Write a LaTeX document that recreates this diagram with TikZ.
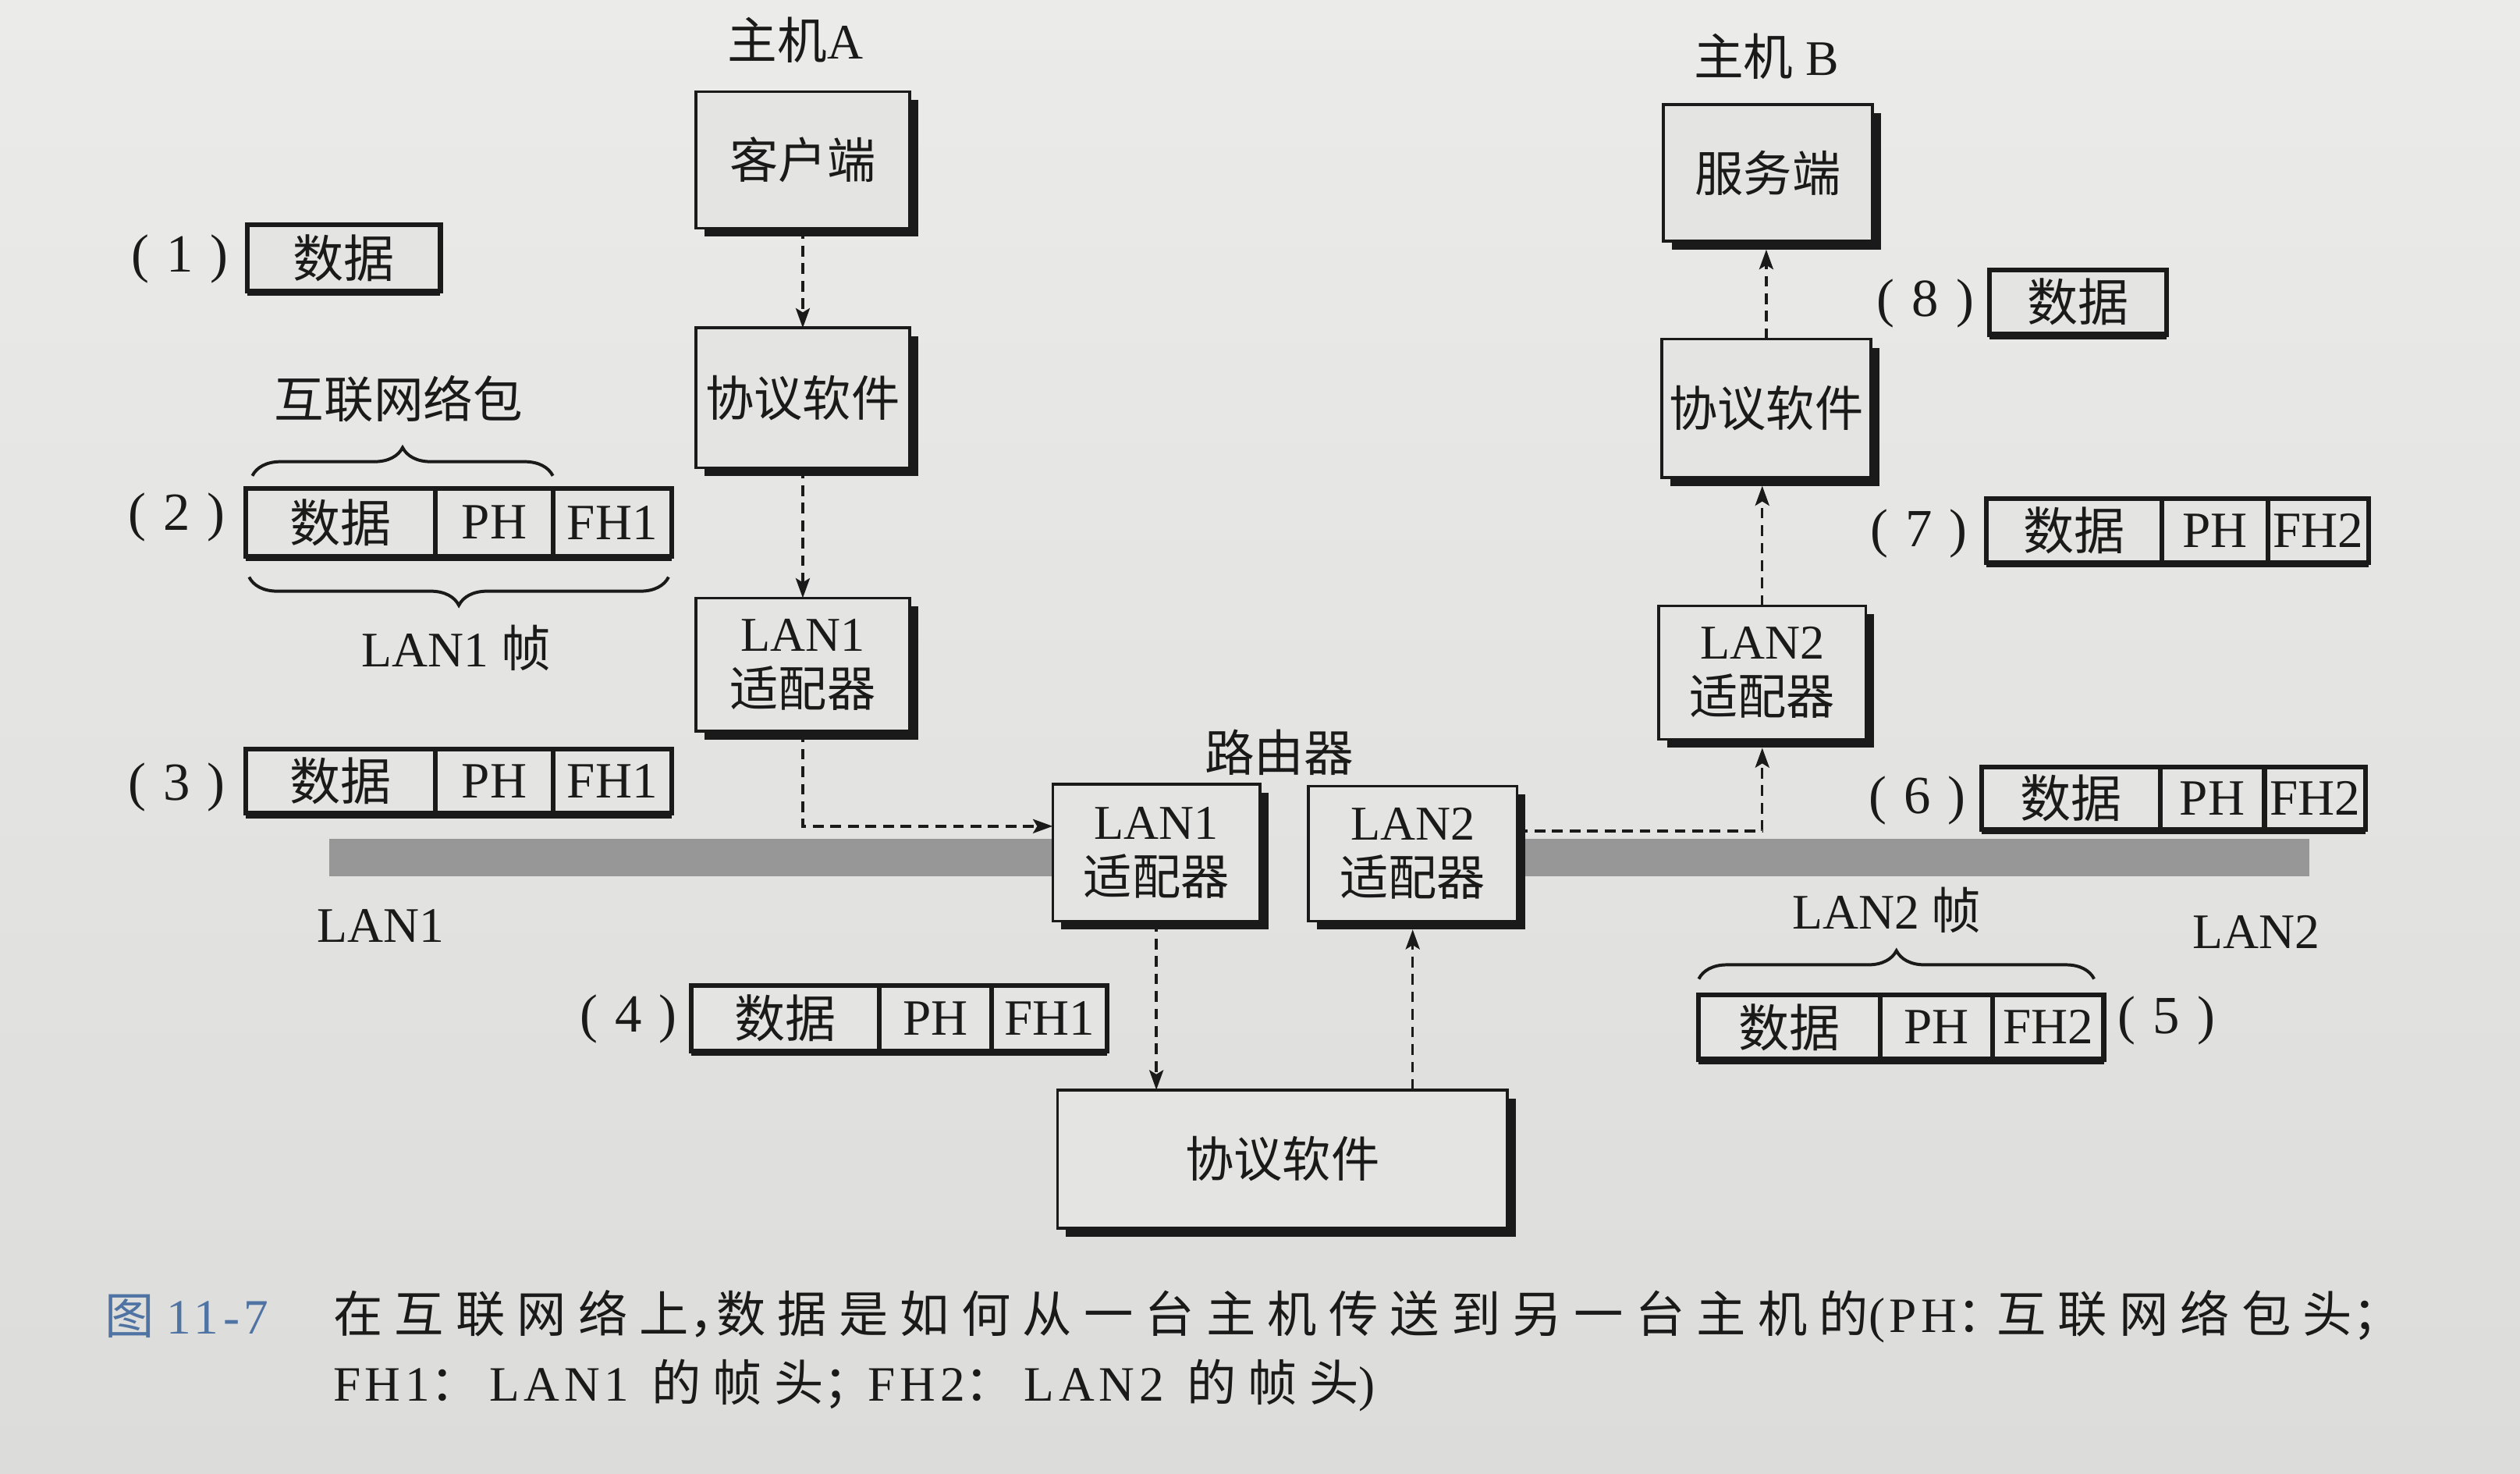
\documentclass[tikz,border=0pt]{standalone}
\usepackage{fontspec}
\setmainfont{Liberation Serif}
\newfontfamily\zh{Noto Sans CJK SC}
\newfontfamily\zhcap{Noto Sans CJK SC}[LetterSpace=24]
\newfontfamily\lacap{Liberation Serif}[LetterSpace=9]
\usetikzlibrary{arrows.meta,shadows,decorations.pathreplacing,calc}
\definecolor{paper}{HTML}{E4E4E2}
\definecolor{papertop}{HTML}{EBEBEA}
\definecolor{paperbot}{HTML}{DCDCDA}
\definecolor{ink}{HTML}{1A1A1A}
\definecolor{capblue}{HTML}{4F74A3}
\definecolor{lanbar}{HTML}{979797}

\tikzset{
  txt/.style={font=\fontsize{17.6}{19.5}\selectfont, text=ink, inner sep=0pt, align=center},
  steplbl/.style={font=\fontsize{19}{21}\selectfont, text=ink, inner sep=0pt},
  sbox/.style={draw=ink, line width=1pt, fill=paper, inner sep=0pt, outer sep=0pt, align=center, text=ink,
     font=\fontsize{17.2}{19.5}\selectfont,
     drop shadow={shadow xshift=3pt, shadow yshift=-3pt, fill=ink, opacity=1}},
  cell/.style={draw=ink, line width=1.7pt, fill=paper, inner sep=0pt, outer sep=0pt, text=ink, font=\fontsize{18}{19}\selectfont},
  flow/.style={draw=ink, line width=0.95pt, dash pattern=on 3.8pt off 2.4pt, -{Stealth[length=7pt,width=5pt,inset=1.5pt]}},
  brc/.style={draw=ink, line width=1.1pt, decorate, decoration={brace, amplitude=10pt}},
}

\newcommand\pktthree[8]{%
  \node[cell, minimum width={(#3-#2)*0.02cm}, minimum height={(#7-#6)*0.02cm}] (#1d) at ({(#2+#3)/2},{(#6+#7)/2}) {\zh 数据};
  \node[cell, minimum width={(#4-#3)*0.02cm}, minimum height={(#7-#6)*0.02cm}] (#1p) at ({(#3+#4)/2},{(#6+#7)/2}) {PH};
  \node[cell, minimum width={(#5-#4)*0.02cm}, minimum height={(#7-#6)*0.02cm}] (#1f) at ({(#4+#5)/2},{(#6+#7)/2}) {#8};
  \draw[ink, line width=1.6pt] ([yshift=-0.9pt]#1d.south west) -- ([yshift=-0.9pt]#1f.south east);
}
\newcommand\pktone[5]{%
  \node[cell, minimum width={(#3-#2)*0.02cm}, minimum height={(#5-#4)*0.02cm}] (#1d) at ({(#2+#3)/2},{(#4+#5)/2}) {\zh 数据};
  \draw[ink, line width=1.6pt] ([yshift=-0.9pt]#1d.south west) -- ([yshift=-0.9pt]#1d.south east);
}
\newcommand\stp[1]{(\hspace{0.32em}#1\hspace{0.32em})}

\begin{document}
\begin{tikzpicture}[x=0.02cm, y=-0.02cm]
\shade[top color=papertop, bottom color=paperbot] (0,0) rectangle (1568,917);
\useasboundingbox (0,0) rectangle (1568,917);

% LAN bars
\fill[lanbar] (205,522) rectangle (655,545);
\fill[lanbar] (944,522) rectangle (1437,545);

% Host A
\node[txt] (hA) at (495,25) {\zh 主机\rmfamily A};
\node[sbox, minimum width=2.66cm, minimum height=1.70cm] (cA) at (499.5,99.5) {\zh 客户端};
\node[sbox, minimum width=2.66cm, minimum height=1.74cm] (pA) at (499.5,247.5) {\zh 协议软件};
\node[sbox, minimum width=2.66cm, minimum height=1.66cm] (lA) at (499.5,413.5) {LAN1\\\zh 适配器};

% Router
\node[txt] (rt) at (796,468) {\zh 路由器};
\node[sbox, minimum width=2.58cm, minimum height=1.70cm] (rL1) at (719.5,530.5) {LAN1\\\zh 适配器};
\node[sbox, minimum width=2.60cm, minimum height=1.68cm] (rL2) at (879,531) {LAN2\\\zh 适配器};
\node[sbox, minimum width=5.60cm, minimum height=1.72cm] (rP) at (798,721) {\zh 协议软件};

% Host B
\node[txt] (hB) at (1099,35) {{\zh 主机} B};
\node[sbox, minimum width=2.60cm, minimum height=1.70cm] (sB) at (1100,107.5) {\zh 服务端};
\node[sbox, minimum width=2.60cm, minimum height=1.72cm] (pB) at (1099,254) {\zh 协议软件};
\node[sbox, minimum width=2.58cm, minimum height=1.66cm] (lB) at (1096.5,418.5) {LAN2\\\zh 适配器};

% flows
\draw[flow] (cA.south) -- (pA.north);
\draw[flow] (pA.south) -- (lA.north);
\coordinate (kA) at (499.5,514);
\draw[flow] (lA.south) -- (kA) -- (kA -| rL1.west);
\draw[flow] (rL1.south) -- (rL1.south |- rP.north);
\draw[flow, shorten >=3pt] (rL2.south |- rP.north) -- (rL2.south);
\coordinate (kB) at (1096.5,517);
\draw[flow, shorten >=3pt] (kB -| rL2.east) -- (kB) -- (lB.south);
\draw[flow, shorten >=3pt] (lB.north) -- (lB.north |- pB.south);
\draw[flow, shorten >=3pt] (pB.north) -- (pB.north |- sB.south);

% packets
\pktone{p1}{154}{274}{140}{181}
\pktthree{p2}{153}{271}{344}{418}{304}{346}{FH1}
\pktthree{p3}{153}{271}{344}{418}{466}{506}{FH1}
\pktthree{p4}{430}{547}{617}{689}{613}{654}{FH1}
\pktthree{p5}{1057}{1170}{1240}{1309}{619}{659}{FH2}
\pktthree{p6}{1233}{1344}{1409}{1472}{477}{516}{FH2}
\pktthree{p7}{1236}{1345}{1411}{1474}{310}{350}{FH2}
\pktone{p8}{1238}{1348}{168}{208}

% step labels
\node[steplbl] (n1) at (112,161) {\stp{1}};
\node[steplbl] (n2) at (110,322) {\stp{2}};
\node[steplbl] (n3) at (110,490) {\stp{3}};
\node[steplbl] (n4) at (391,634) {\stp{4}};
\node[steplbl] (n5) at (1348,635) {\stp{5}};
\node[steplbl] (n6) at (1193,498) {\stp{6}};
\node[steplbl] (n7) at (1194,332) {\stp{7}};
\node[steplbl] (n8) at (1198,189) {\stp{8}};

% braces and labels
\draw[brc] (157,296) -- (344,296);
\draw[brc] (416,359) -- (155,359);
\draw[brc] (1057,609) -- (1303,609);
\node[txt] (iwp) at (248,248) {\zh 互联网络包};
\node[txt] (lf1) at (284,403) {LAN1 {\zh 帧}};
\node[txt] (lf2) at (1174,566) {LAN2 {\zh 帧}};
\node[txt] (lan1) at (237,576) {LAN1};
\node[txt] (lan2) at (1404,580) {LAN2};

% caption
\node[anchor=west, inner sep=0pt, text=capblue, font=\fontsize{17.5}{19}\selectfont] (capnum) at (65,819) {{\zhcap 图} {\lacap 11-7}};
\node[anchor=west, inner sep=0pt, text=ink, font=\fontsize{17.5}{19}\selectfont] (cap1) at (207,819)
  {\zhcap 在互联网络上\makebox[0.55em][l]{，}数据是如何从一台主机传送到另一台主机的{\lacap (PH}\makebox[0.8em][l]{：}互联网络包头\makebox[0.5em][l]{；}};
\node[anchor=west, inner sep=0pt, text=ink, font=\fontsize{17.5}{19}\selectfont] (cap2) at (207,862)
  {\zhcap {\lacap FH1}\makebox[1.2em][l]{：}{\lacap LAN1} 的帧头\makebox[0.9em][l]{；}{\lacap FH2}\makebox[1.2em][l]{：}{\lacap LAN2} 的帧头{\lacap )}};
\end{tikzpicture}
\end{document}
